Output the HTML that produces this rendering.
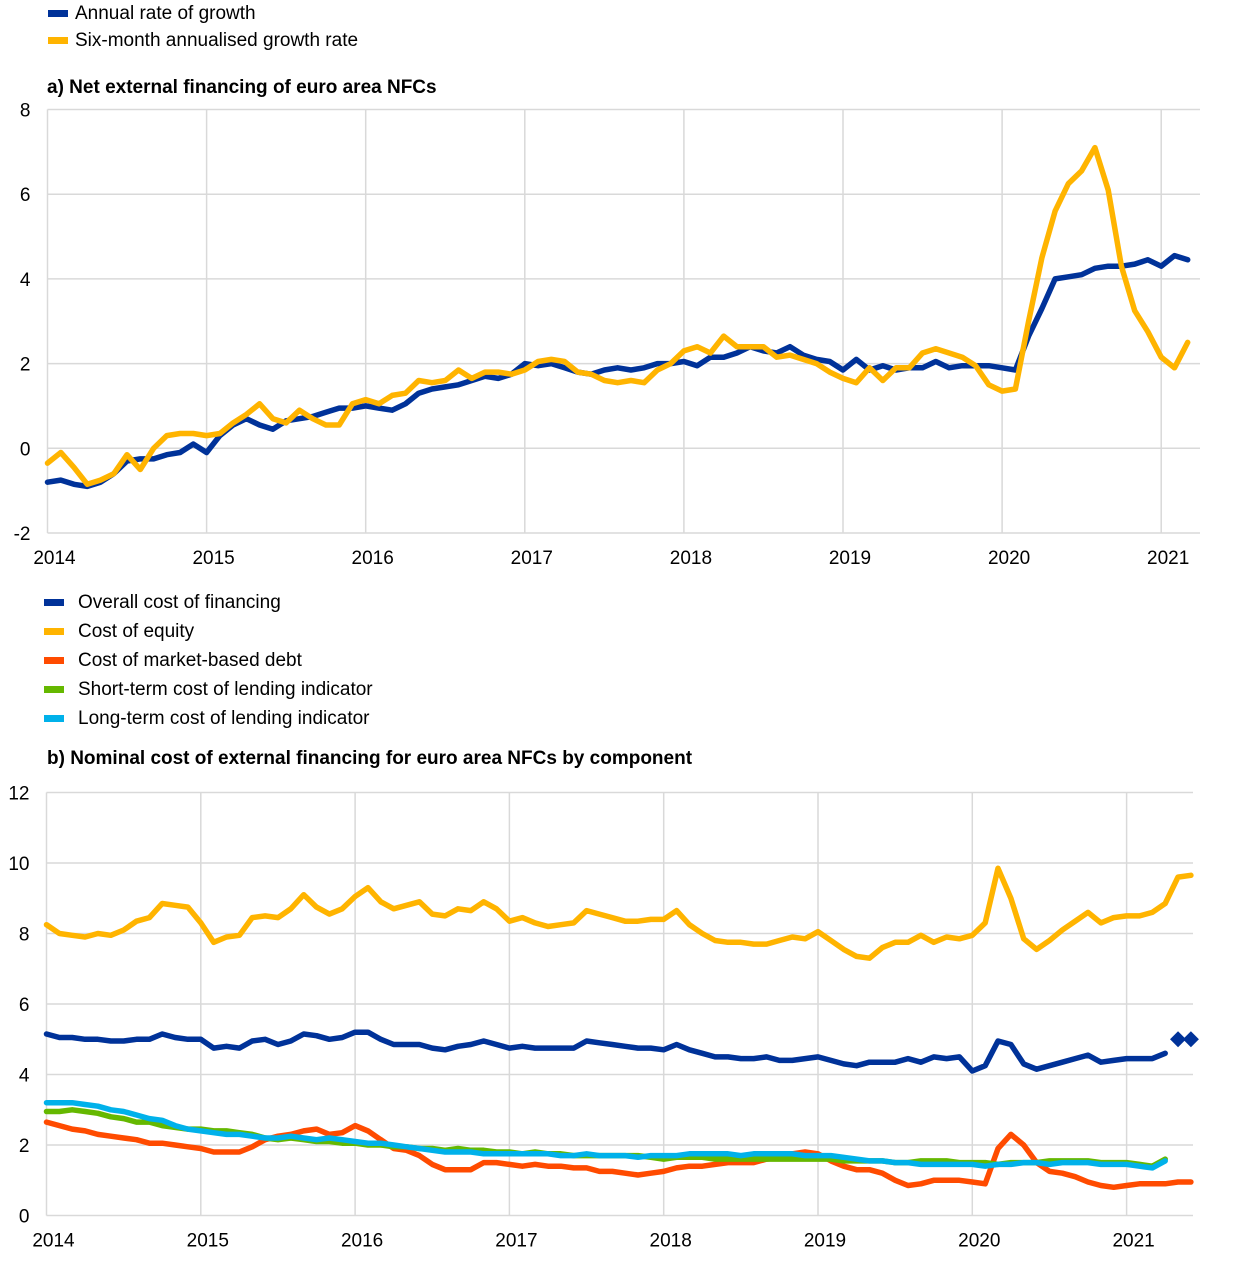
<!DOCTYPE html>
<html><head><meta charset="utf-8">
<style>
body{margin:0;background:#fff;font-family:"Liberation Sans",Arial,sans-serif;}
svg text{font-family:"Liberation Sans",Arial,sans-serif;}
</style></head>
<body>
<svg id="chart" width="1240" height="1257" viewBox="0 0 1240 1257" xmlns="http://www.w3.org/2000/svg">
<g id="legA"></g>
<text x="47" y="93" font-size="19" font-weight="bold">a) Net external financing of euro area NFCs</text>
<g id="gridA"></g>
<g id="seriesA"></g>
<g id="legB"></g>
<text x="47" y="764" font-size="19" font-weight="bold">b) Nominal cost of external financing for euro area NFCs by component</text>
<g id="gridB"></g>
<g id="seriesB"></g>
</svg>
<script>
const NS="http://www.w3.org/2000/svg";
const years=["2014","2015","2016","2017","2018","2019","2020","2021"];
const ticksA=[-2,0,2,4,6,8];
const ticksB=[0,2,4,6,8,10,12];
const annualGrowth=[-0.8,-0.75,-0.85,-0.9,-0.8,-0.6,-0.3,-0.25,-0.25,-0.15,-0.1,0.1,
-0.1,0.3,0.55,0.7,0.55,0.45,0.65,0.7,0.75,0.85,0.95,0.95,
1.0,0.95,0.9,1.05,1.3,1.4,1.45,1.5,1.6,1.7,1.65,1.75,
2.0,1.95,2.0,1.9,1.8,1.75,1.85,1.9,1.85,1.9,2.0,2.0,
2.05,1.95,2.15,2.15,2.25,2.4,2.3,2.25,2.4,2.2,2.1,2.05,
1.85,2.1,1.85,1.95,1.85,1.9,1.9,2.05,1.9,1.95,1.95,1.95,
1.9,1.85,2.65,3.3,4.0,4.05,4.1,4.25,4.3,4.3,4.35,4.45,
4.3,4.55,4.45];
const sixMonthGrowth=[-0.35,-0.1,-0.45,-0.85,-0.75,-0.6,-0.15,-0.5,0,0.3,0.35,0.35,
0.3,0.35,0.6,0.8,1.05,0.7,0.6,0.9,0.7,0.55,0.55,1.05,
1.15,1.05,1.25,1.3,1.6,1.55,1.6,1.85,1.65,1.8,1.8,1.75,
1.85,2.05,2.1,2.05,1.8,1.75,1.6,1.55,1.6,1.55,1.85,2.0,
2.3,2.4,2.25,2.65,2.4,2.4,2.4,2.15,2.2,2.1,2.0,1.8,
1.65,1.55,1.9,1.6,1.9,1.9,2.25,2.35,2.25,2.15,1.95,1.5,
1.35,1.4,3.0,4.5,5.6,6.25,6.55,7.1,6.1,4.3,3.25,2.75,
2.15,1.9,2.5];
const costEquity=[8.25,8.0,7.95,7.9,8.0,7.95,8.1,8.35,8.45,8.85,8.8,8.75,
8.3,7.75,7.9,7.95,8.45,8.5,8.45,8.7,9.1,8.75,8.55,8.7,
9.05,9.3,8.9,8.7,8.8,8.9,8.55,8.5,8.7,8.65,8.9,8.7,
8.35,8.45,8.3,8.2,8.25,8.3,8.65,8.55,8.45,8.35,8.35,8.4,
8.4,8.65,8.25,8.0,7.8,7.75,7.75,7.7,7.7,7.8,7.9,7.85,
8.05,7.8,7.55,7.35,7.3,7.6,7.75,7.75,7.95,7.75,7.9,7.85,
7.95,8.3,9.85,9.0,7.85,7.55,7.8,8.1,8.35,8.6,8.3,8.45,
8.5,8.5,8.6,8.85,9.6,9.65];
const overallCost=[5.15,5.05,5.05,5.0,5.0,4.95,4.95,5.0,5.0,5.15,5.05,5.0,
5.0,4.75,4.8,4.75,4.95,5.0,4.85,4.95,5.15,5.1,5.0,5.05,
5.2,5.2,5.0,4.85,4.85,4.85,4.75,4.7,4.8,4.85,4.95,4.85,
4.75,4.8,4.75,4.75,4.75,4.75,4.95,4.9,4.85,4.8,4.75,4.75,
4.7,4.85,4.7,4.6,4.5,4.5,4.45,4.45,4.5,4.4,4.4,4.45,
4.5,4.4,4.3,4.25,4.35,4.35,4.35,4.45,4.35,4.5,4.45,4.5,
4.1,4.25,4.95,4.85,4.3,4.15,4.25,4.35,4.45,4.55,4.35,4.4,
4.45,4.45,4.45,4.6];
const overallEstimate=[null,null,null,null,null,null,null,null,null,null,null,null,
null,null,null,null,null,null,null,null,null,null,null,null,
null,null,null,null,null,null,null,null,null,null,null,null,
null,null,null,null,null,null,null,null,null,null,null,null,
null,null,null,null,null,null,null,null,null,null,null,null,
null,null,null,null,null,null,null,null,null,null,null,null,
null,null,null,null,null,null,null,null,null,null,null,null,
null,null,null,null,5.0,5.0];
const costMarketDebt=[2.65,2.55,2.45,2.4,2.3,2.25,2.2,2.15,2.05,2.05,2.0,1.95,
1.9,1.8,1.8,1.8,1.95,2.15,2.25,2.3,2.4,2.45,2.3,2.35,
2.55,2.4,2.15,1.9,1.85,1.7,1.45,1.3,1.3,1.3,1.5,1.5,
1.45,1.4,1.45,1.4,1.4,1.35,1.35,1.25,1.25,1.2,1.15,1.2,
1.25,1.35,1.4,1.4,1.45,1.5,1.5,1.5,1.6,1.65,1.75,1.8,
1.75,1.55,1.4,1.3,1.3,1.2,1.0,0.85,0.9,1.0,1.0,1.0,
0.95,0.9,1.9,2.3,2.0,1.5,1.25,1.2,1.1,0.95,0.85,0.8,
0.85,0.9,0.9,0.9,0.95,0.95];
const shortTermLending=[2.95,2.95,3.0,2.95,2.9,2.8,2.75,2.65,2.65,2.55,2.5,2.45,
2.45,2.4,2.4,2.35,2.3,2.2,2.15,2.2,2.15,2.1,2.1,2.05,
2.05,2.0,2.0,1.95,1.95,1.9,1.9,1.85,1.9,1.85,1.85,1.8,
1.8,1.75,1.8,1.75,1.75,1.7,1.7,1.7,1.7,1.7,1.7,1.65,
1.6,1.65,1.65,1.65,1.6,1.6,1.6,1.6,1.6,1.6,1.6,1.6,
1.6,1.6,1.55,1.55,1.55,1.55,1.5,1.5,1.55,1.55,1.55,1.5,
1.5,1.5,1.45,1.5,1.5,1.5,1.55,1.55,1.55,1.55,1.5,1.5,
1.5,1.45,1.4,1.6];
const longTermLending=[3.2,3.2,3.2,3.15,3.1,3.0,2.95,2.85,2.75,2.7,2.55,2.45,
2.4,2.35,2.3,2.3,2.25,2.2,2.2,2.25,2.2,2.15,2.2,2.15,
2.1,2.05,2.05,2.0,1.95,1.9,1.85,1.8,1.8,1.8,1.75,1.75,
1.75,1.75,1.75,1.75,1.7,1.7,1.75,1.7,1.7,1.7,1.65,1.7,
1.7,1.7,1.75,1.75,1.75,1.75,1.7,1.75,1.75,1.75,1.75,1.7,
1.7,1.7,1.65,1.6,1.55,1.55,1.5,1.5,1.45,1.45,1.45,1.45,
1.45,1.4,1.45,1.45,1.5,1.5,1.45,1.5,1.5,1.5,1.45,1.45,
1.45,1.4,1.35,1.55];

const BLUE="#003299",YEL="#ffb400",RED="#ff4b00",GRN="#65b800",CYA="#00b1ea";
function el(parent,tag,attrs,text){const e=document.createElementNS(NS,tag);for(const k in attrs)e.setAttribute(k,attrs[k]);if(text!==undefined)e.textContent=text;parent.appendChild(e);return e;}

function makeAxes(P,grid,ticks){
  const xs=i=>P.left+i*P.month;
  const ys=v=>P.bottom-(v-P.min)/(P.max-P.min)*(P.bottom-P.top);
  ticks.forEach(t=>{
    const l=el(grid,"line",{x1:P.left,x2:P.right,y1:ys(t),y2:ys(t),stroke:"#d9d9d9","stroke-width":1.5});
    
    
    const tx=el(grid,"text",{x:P.left-17,y:ys(t)+7,"font-size":19,"text-anchor":"end"},String(t));
    
    
  });
  years.forEach((y,k)=>{
    const x=xs(k*12);
    const l=el(grid,"line",{x1:x,x2:x,y1:P.top,y2:P.bottom,stroke:"#d9d9d9","stroke-width":1.5});
    
    
    const tx=el(grid,"text",{x:x+7,y:P.bottom+31,"font-size":19,"text-anchor":"middle"},y);
    
    
  });
  return {xs,ys};
}
function drawLine(g,ax,vals,color,name){
  let d="";vals.forEach((v,i)=>{if(v==null)return;d+=(d?"L":"M")+ax.xs(i).toFixed(1)+","+ax.ys(v).toFixed(1);});
  const p=el(g,"path",{d:d,fill:"none",stroke:color,"stroke-width":5.5,"stroke-linejoin":"round","stroke-linecap":"round"});
  
  
}
function legend(g,items,x,y0,dy,fs,gap){
  items.forEach((it,i)=>{
    const y=y0+i*dy;
    const r=el(g,"rect",{x:x,y:y-3,width:20,height:7,fill:it[1]});
    
    
    const t=el(g,"text",{x:x+gap,y:y+6,"font-size":fs},it[0]);
    
    
  });
}
legend(document.getElementById("legA"),[["Annual rate of growth",BLUE],["Six-month annualised growth rate",YEL]],48,13,27,19,27);
legend(document.getElementById("legB"),[["Overall cost of financing",BLUE],["Cost of equity",YEL],["Cost of market-based debt",RED],["Short-term cost of lending indicator",GRN],["Long-term cost of lending indicator",CYA]],44,602,29,19,34);

const PA={left:47.5,right:1200,top:109.5,bottom:533,min:-2,max:8,month:159.1/12};
const axA=makeAxes(PA,document.getElementById("gridA"),ticksA);
const sA=document.getElementById("seriesA");
drawLine(sA,axA,annualGrowth,BLUE,"annual-growth-line");
drawLine(sA,axA,sixMonthGrowth,YEL,"six-month-growth-line");

const PB={left:46.5,right:1193,top:792.5,bottom:1215.5,min:0,max:12,month:154.3/12};
const axB=makeAxes(PB,document.getElementById("gridB"),ticksB);
const sB=document.getElementById("seriesB");
drawLine(sB,axB,costEquity,YEL,"cost-of-equity-line");
drawLine(sB,axB,overallCost,BLUE,"overall-cost-line");
drawLine(sB,axB,costMarketDebt,RED,"market-debt-line");
drawLine(sB,axB,shortTermLending,GRN,"short-term-lending-line");
drawLine(sB,axB,longTermLending,CYA,"long-term-lending-line");
overallEstimate.forEach((v,i)=>{
  if(v==null)return;
  const x=axB.xs(i),y=axB.ys(v);
  const d=el(sB,"path",{d:`M${x},${y-8}L${x+8},${y}L${x},${y+8}L${x-8},${y}Z`,fill:BLUE});
  
  
});
</script>
</body></html>
